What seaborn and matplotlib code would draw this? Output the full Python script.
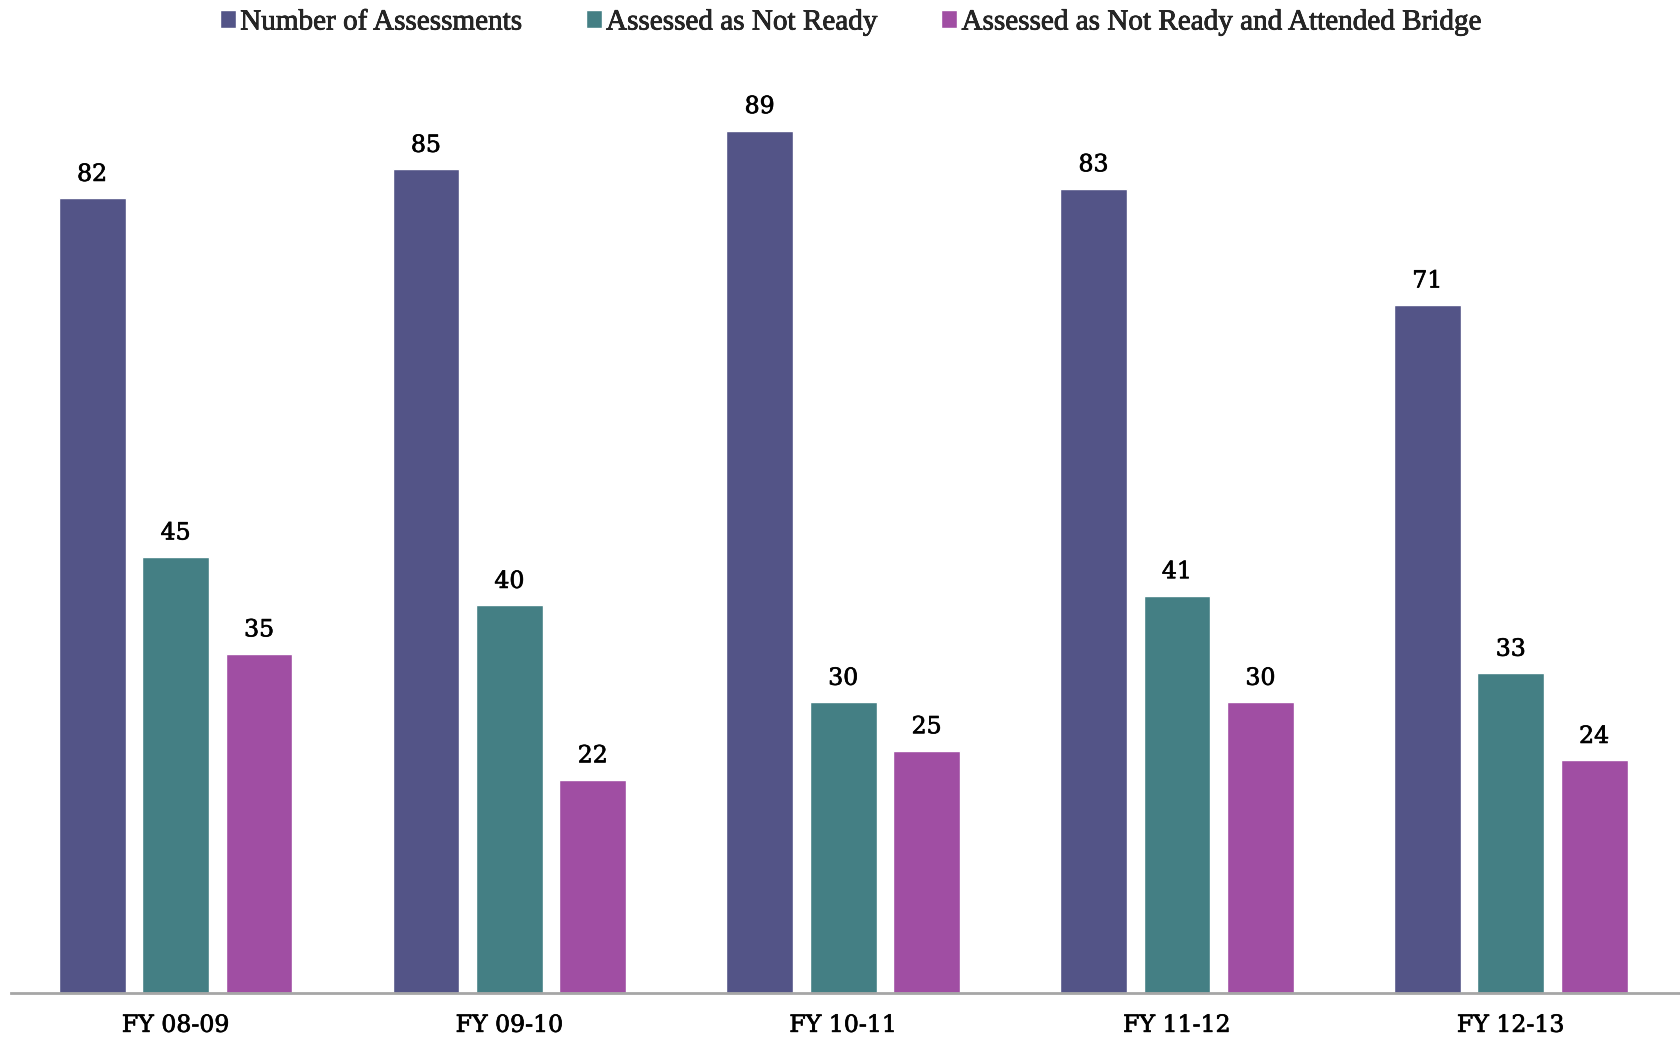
import pandas as pd
import matplotlib.pyplot as plt
import matplotlib.patheffects as pe
import seaborn as sns

years = ['FY 08-09', 'FY 09-10', 'FY 10-11', 'FY 11-12', 'FY 12-13']
n_assessments = [82, 85, 89, 83, 71]
not_ready = [45, 40, 30, 41, 33]
not_ready_bridge = [35, 22, 25, 30, 24]

series_names = ['Number of Assessments', 'Assessed as Not Ready',
                'Assessed as Not Ready and Attended Bridge']
colors = ['#535487', '#447F84', '#A04EA3']

df = pd.DataFrame({'Year': years,
                   series_names[0]: n_assessments,
                   series_names[1]: not_ready,
                   series_names[2]: not_ready_bridge})
df_long = df.melt(id_vars='Year', var_name='Series', value_name='Count')

sns.set_theme(style='white')
plt.rcParams['font.family'] = ['Liberation Serif', 'DejaVu Serif']

# slightly heavier text, like the original
thick = [pe.withStroke(linewidth=0.5, foreground='black')]

fig = plt.figure(figsize=(16.81, 10.38), dpi=100)
ax = fig.add_axes([0.0064, 1 - 993 / 1038, 0.9924, (993 - 24) / 1038])

sns.barplot(data=df_long, x='Year', y='Count', hue='Series', hue_order=series_names,
            palette=colors, width=0.75, gap=0.2, saturation=1, ax=ax, legend=True)

for c in ax.containers:
    labels = ax.bar_label(c, padding=9, fontsize=17, family='DejaVu Serif', color='black')
    for t in labels:
        t.set_path_effects(thick)

ax.set_ylim(0, 100)
ax.set_xlim(-0.494, 4.504)
ax.set_xlabel('')
ax.set_ylabel('')
ax.set_yticks([])
for s in ['top', 'left', 'right']:
    ax.spines[s].set_visible(False)
ax.spines['bottom'].set_color('#A6A6A6')
ax.spines['bottom'].set_linewidth(2)
ax.tick_params(axis='x', length=0, pad=15)
for t in ax.get_xticklabels():
    t.set_family('DejaVu Serif')
    t.set_fontsize(17)
    t.set_color('black')
    t.set_path_effects(thick)

leg = ax.legend(loc='upper center', bbox_to_anchor=(0.503, 1.027), ncol=3, frameon=False,
                fontsize=21, handlelength=0.55, handleheight=0.55, handletextpad=0.15,
                columnspacing=2.2, borderaxespad=0)
for t in leg.get_texts():
    t.set_path_effects(thick)

fig.savefig('out.png', dpi=100)
